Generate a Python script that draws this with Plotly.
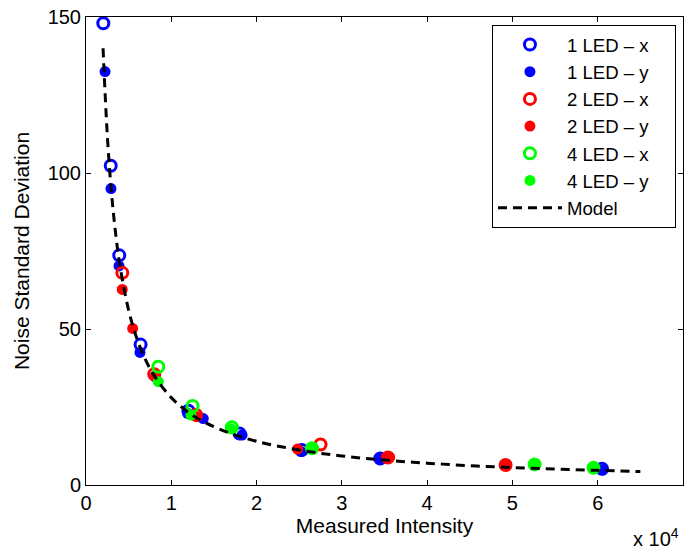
import plotly.graph_objects as go

# ---- data ----
led1_x_I = [2030, 2900, 3900, 6400, 12000, 18000, 25300, 34500, 60500]
led1_x_s = [148.0, 102.3, 73.6, 45.0, 23.8, 16.5, 11.2, 8.5, 5.2]
led1_y_I = [2230, 2930, 3870, 6330, 11900, 13750, 18300, 25200, 34400, 60600]
led1_y_s = [132.5, 95.0, 70.2, 42.5, 23.0, 21.3, 16.0, 10.7, 8.3, 4.8]

led2_x_I = [4260, 8000, 12900, 27500, 35400, 49200]
led2_x_s = [68.0, 35.5, 22.5, 13.0, 8.8, 6.4]
led2_y_I = [4250, 5470, 8100, 13000, 24800, 35600, 49300]
led2_y_s = [62.7, 50.2, 34.7, 21.9, 11.5, 8.9, 6.4]

led4_x_I = [8480, 12500, 17100, 26500, 52600, 59500]
led4_x_s = [37.9, 25.3, 18.5, 11.8, 6.6, 5.5]
led4_y_I = [8480, 12300, 17000, 26500, 52600, 59500]
led4_y_s = [33.1, 22.4, 18.0, 11.5, 6.6, 5.5]

model_I = [2000, 2500, 3000, 3500, 4000, 5000, 6000, 7000, 8000, 10000, 12000,
           14000, 17000, 20000, 25000, 30000, 35000, 40000, 45000, 50000,
           55000, 60000, 65000]
model_s = [140.0, 112.0, 93.3, 80.0, 70.0, 56.0, 46.7, 40.0, 35.0, 28.0, 23.3,
           20.0, 16.5, 14.0, 11.2, 9.3, 8.0, 7.0, 6.2, 5.6, 5.1, 4.7, 4.3]

series_names = ["1 LED \u2013 x", "1 LED \u2013 y", "2 LED \u2013 x",
                "2 LED \u2013 y", "4 LED \u2013 x", "4 LED \u2013 y", "Model"]

x_tickvals = [0, 10000, 20000, 30000, 40000, 50000, 60000, 70000]
x_ticktext = ["0", "1", "2", "3", "4", "5", "6", "7"]
y_tickvals = [0, 50, 100, 150]

BLUE, RED, GREEN = "#0000ff", "#ff0000", "#00ff00"
FONT = "Liberation Sans"
FS_TICK = 20
FS_TITLE = 21
FS_LEG = 18.6
NB = "\u00a0"


def leg(name):
    return name + NB * 4


fig = go.Figure()


def open_trace(x, y, c, name):
    return go.Scatter(x=x, y=y, mode="markers", name=leg(name),
                      marker=dict(symbol="circle-open", size=11, color=c,
                                  line=dict(width=3, color=c)))


def filled_trace(x, y, c, name):
    return go.Scatter(x=x, y=y, mode="markers", name=leg(name),
                      marker=dict(symbol="circle", size=11, color=c,
                                  line=dict(width=0)))


fig.add_trace(open_trace(led1_x_I, led1_x_s, BLUE, series_names[0]))
fig.add_trace(filled_trace(led1_y_I, led1_y_s, BLUE, series_names[1]))
fig.add_trace(open_trace(led2_x_I, led2_x_s, RED, series_names[2]))
fig.add_trace(filled_trace(led2_y_I, led2_y_s, RED, series_names[3]))
fig.add_trace(open_trace(led4_x_I, led4_x_s, GREEN, series_names[4]))
fig.add_trace(filled_trace(led4_y_I, led4_y_s, GREEN, series_names[5]))
fig.add_trace(go.Scatter(x=model_I, y=model_s, mode="lines",
                         name=leg(series_names[6]),
                         line=dict(color="black", width=3, dash="9px,6px",
                                   shape="spline")))

axis_common = dict(showgrid=False, zeroline=False, showline=True,
                   linecolor="black", linewidth=1, mirror="ticks",
                   ticks="inside", ticklen=5, tickcolor="black",
                   automargin=False,
                   tickfont=dict(size=FS_TICK, color="black", family=FONT))

fig.update_xaxes(range=[0, 70000], tickvals=x_tickvals, ticktext=x_ticktext,
                 title=dict(text="Measured Intensity", standoff=2,
                            font=dict(size=FS_TITLE, color="black", family=FONT)),
                 **axis_common)
fig.update_yaxes(range=[0, 150], tickvals=y_tickvals,
                 title=dict(text="Noise Standard Deviation", standoff=12,
                            font=dict(size=FS_TITLE, color="black", family=FONT)),
                 **axis_common)

fig.add_annotation(text="x 10<sup>4</sup>", xref="paper", yref="paper",
                   x=0.997, y=-0.113, xanchor="right", yanchor="middle",
                   showarrow=False,
                   font=dict(size=FS_TICK, color="black", family=FONT))

fig.update_layout(
    width=687, height=554,
    margin=dict(l=86, r=4, t=17, b=69, autoexpand=False),
    paper_bgcolor="white", plot_bgcolor="white",
    font=dict(family=FONT, color="black", size=FS_TICK),
    legend=dict(x=0.68, y=0.983, xanchor="left", yanchor="top",
                bgcolor="white", bordercolor="black", borderwidth=1,
                font=dict(size=FS_LEG, family=FONT, color="black"),
                tracegroupgap=0, itemwidth=64),
    showlegend=True,
)

fig.write_html("out.html", config={"displayModeBar": False},
               post_script="document.body.style.margin='0';"
                           "document.body.style.overflow='hidden';")
